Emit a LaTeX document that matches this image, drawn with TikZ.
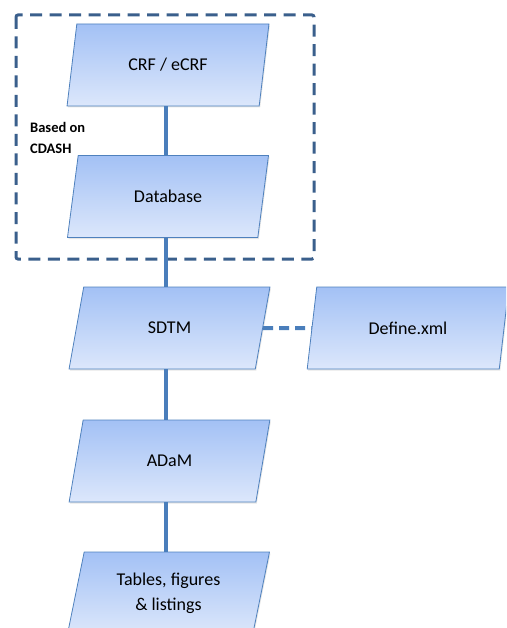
\documentclass[tikz,border=0pt]{standalone}
\usepackage{fontspec}
\setmainfont{Carlito}
\usetikzlibrary{shapes.geometric,shadows}
\definecolor{boxtop}{HTML}{A3C1F5}
\definecolor{boxbot}{HTML}{DCE7FB}
\definecolor{boxline}{HTML}{4F81BD}
\definecolor{conn}{HTML}{4A7EBB}
\definecolor{grp}{HTML}{3A5F8C}
\tikzset{
  para/.style={trapezium, trapezium left angle=77, trapezium right angle=103,
    trapezium stretches=true, minimum width=202pt, minimum height=82pt,
    draw=boxline, line width=0.8pt, top color=boxtop, bottom color=boxbot,
    drop shadow={opacity=0.2, shadow xshift=1pt, shadow yshift=-1.5pt},
    align=center, font=\fontsize{18}{25}\selectfont, text=black},
  conline/.style={draw=conn, line width=4pt},
  grpbox/.style={draw=grp, line width=3pt, dash pattern=on 12pt off 7.5pt, rounded corners=2pt},
  note/.style={font=\bfseries\fontsize{14.5}{21}\selectfont, align=left, anchor=west, inner sep=0pt}
}
\begin{document}
\begin{tikzpicture}[x=1pt,y=-1pt]
\useasboundingbox (0,0) rectangle (506,628);
\clip (0,0) rectangle (506,628);
\draw[grpbox] (16,15) rectangle (314,259);
\node[note] (based) at (30,138) {Based on\\CDASH};
\node[para] (crf) at (168,65) {CRF / eCRF};
\node[para] (db) at (168,196.5) {Database};
\node[para] (sdtm) at (169.5,328) {SDTM};
\node[para] (def) at (408,328) {Define.xml};
\node[para] (adam) at (169.5,461) {ADaM};
\node[para] (tfl) at (168.5,593) {Tables, figures\\\& listings};
\coordinate (spine) at (166,0);
\draw[conline] (spine |- crf.south) -- (spine |- db.north);
\draw[conline] (spine |- db.south) -- (spine |- sdtm.north);
\draw[conline] (spine |- sdtm.south) -- (spine |- adam.north);
\draw[conline] (spine |- adam.south) -- (spine |- tfl.north);
\draw[conline, dash pattern=on 10pt off 6pt] (sdtm.east) -- (def.west);
\end{tikzpicture}
\end{document}
